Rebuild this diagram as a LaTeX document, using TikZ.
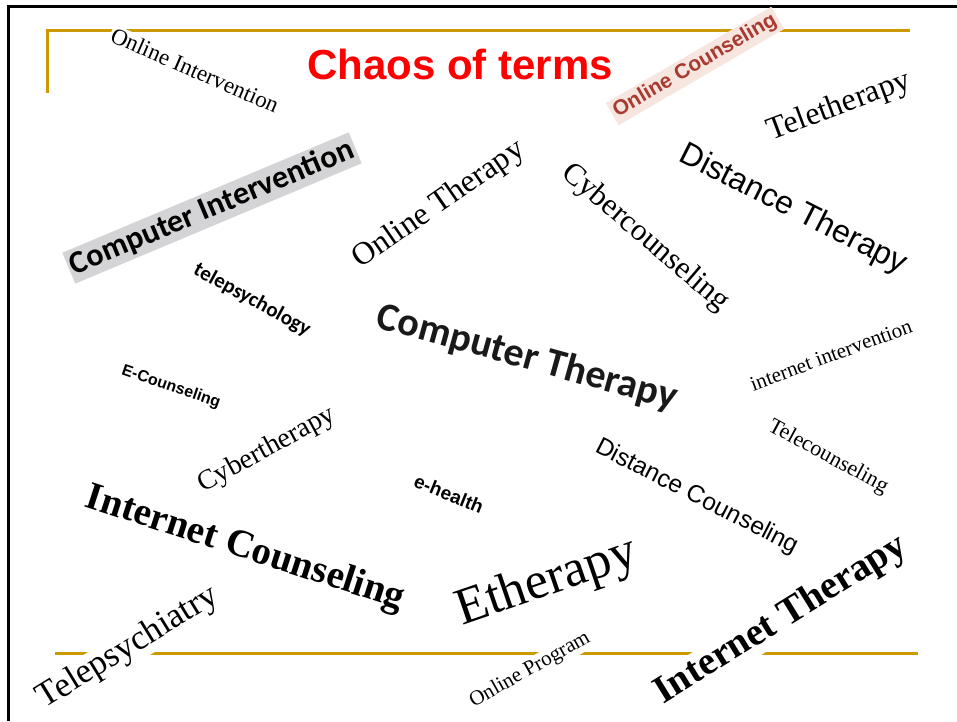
\documentclass[tikz,border=0pt]{standalone}
\usepackage{fontspec}
\setmainfont{Liberation Serif}
\newfontfamily\timesfont{Liberation Serif}
\newfontfamily\arialfont{Liberation Sans}
\newfontfamily\calibrifont{Carlito}
\definecolor{gold}{RGB}{204,153,0}
\definecolor{brick}{RGB}{168,58,48}
\definecolor{blush}{RGB}{247,230,224}
\definecolor{greybox}{RGB}{212,212,214}
\tikzset{
  term/.style={fill=white, inner sep=1.5pt, text=black},
  tms/.style={term, font=\timesfont\fontsize{#1}{#1}\selectfont},
  tmsb/.style={term, font=\timesfont\bfseries\fontsize{#1}{#1}\selectfont},
  arl/.style={term, font=\arialfont\fontsize{#1}{#1}\selectfont},
  arlb/.style={term, font=\arialfont\bfseries\fontsize{#1}{#1}\selectfont},
  clb/.style={term, font=\calibrifont\bfseries\fontsize{#1}{#1}\selectfont},
  rule/.style={draw=gold, line width=3pt},
}
\begin{document}
\begin{tikzpicture}[x=1pt,y=-1pt]
\useasboundingbox (0,0) rectangle (957,721);
% frame
\draw [line width=3pt] (8,721) -- (8,6) -- (957,6);
% gold rules
\draw [rule] (47,93) -- (47,30) -- (910,30);
\draw [rule] (55,653) -- (918,653);
% title
\node [font=\arialfont\bfseries\fontsize{42}{42}\selectfont, text=red] (title) at (460,64) {Chaos of terms};
% terms, top row
\node [tms=23, rotate=-23.6] (onlineint) at (195,70) {Online Intervention};
\node [arlb=21, rotate=30.2, fill=blush, text=brick, inner sep=3pt] (onlinecoun) at (695,66) {Online Counseling};
\node [tms=32, rotate=20.5] (teleth) at (839,107) {Teletherapy};
\node [clb=32, rotate=22.8, fill=greybox, inner sep=3pt] (compint) at (212,208) {Computer Intervention};
\node [tms=32, rotate=34.7] (onlineth) at (439,205) {Online Therapy};
\node [tms=31, rotate=-40.5] (cybercoun) at (645,238) {Cybercounseling};
\node [arl=32, rotate=-26.9] (distth) at (793,210) {Distance Therapy};
% terms, middle
\node [clb=21, rotate=-28.6] (telepsy) at (252,300) {telepsychology};
\node [clb=40, rotate=-15.5, text=black!90] (compth) at (527,358) {Computer Therapy};
\node [arlb=16, rotate=-18.9] (ecoun) at (171,387) {E-Counseling};
\node [tms=21, rotate=20.3] (internetint) at (831,355) {internet intervention};
\node [tms=28, rotate=28.6] (cyberth) at (267,450) {Cybertherapy};
\node [tms=22, rotate=-28.4] (telecoun) at (828,457) {Telecounseling};
\node [arlb=19, rotate=-22] (ehealth) at (449,494) {e-health};
\node [arl=24.5, rotate=-27.1] (distcoun) at (697,497) {Distance Counseling};
% terms, bottom
\node [tmsb=39, rotate=-18] (internetcoun) at (245,549) {Internet Counseling};
\node [tms=52, rotate=18.9] (eth) at (547,583) {Etherapy};
\node [tms=35, rotate=31.6] (telepsych) at (128,648) {Telepsychiatry};
\node [tms=21, rotate=29.4] (onlineprog) at (530,670) {Online Program};
\node [tmsb=39, rotate=31.8] (internetth) at (781,620) {Internet Therapy};
\end{tikzpicture}
\end{document}
